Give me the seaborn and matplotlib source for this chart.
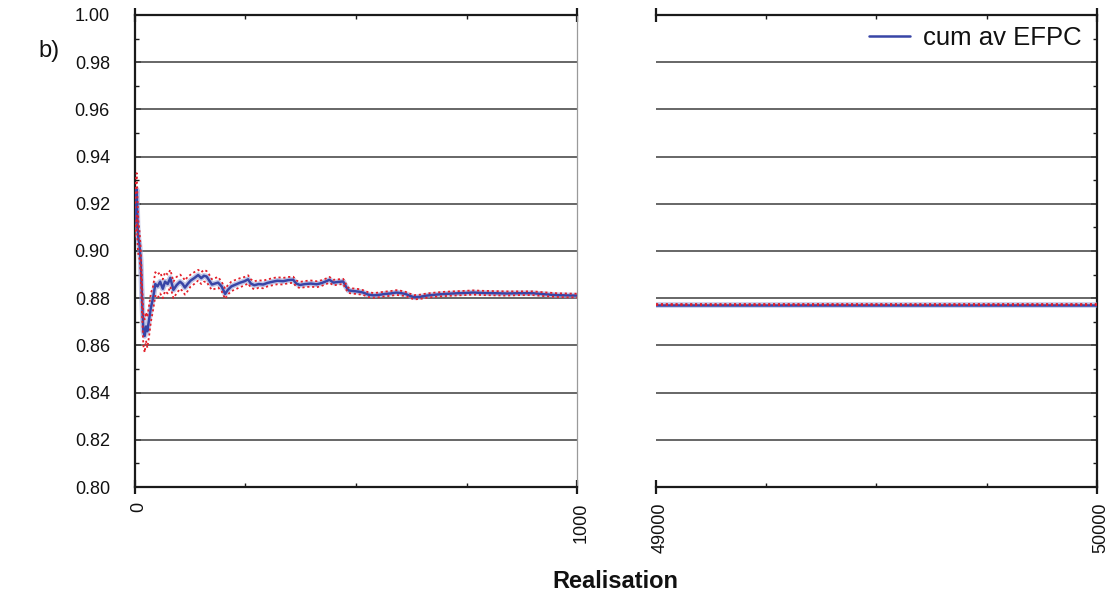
import matplotlib
matplotlib.use("Agg")
import matplotlib.pyplot as plt
import matplotlib.transforms as mtransforms
from matplotlib.ticker import FixedLocator, MultipleLocator
import seaborn as sns

sns.set_style("white")
plt.rcParams["font.family"] = ["Liberation Sans", "DejaVu Sans"]
plt.rcParams["text.color"] = "#111111"
plt.rcParams["xtick.color"] = "#111111"
plt.rcParams["ytick.color"] = "#111111"
plt.rcParams["xtick.labelcolor"] = "#111111"
plt.rcParams["ytick.labelcolor"] = "#111111"

# Cumulative average EFPC over the first 1000 realisations, with bounds
realisation = [0, 2, 4, 6, 8, 10, 13, 16, 19, 22, 25, 28, 32, 36, 41, 46, 51, 57, 63, 68,
               74, 80, 87, 94, 102, 108, 113, 119, 126, 134, 143, 150, 156, 162, 168, 174,
               181, 188, 196, 204, 210, 218, 228, 238, 248, 256, 262, 270, 280, 290, 300,
               312, 322, 335, 348, 358, 365, 373, 385, 398, 411, 422, 433, 440, 449, 460,
               471, 477, 483, 495, 505, 516, 528, 540, 552, 565, 578, 591, 600, 612, 622,
               632, 645, 660, 680, 700, 720, 745, 765, 790, 815, 840, 870, 900, 925, 954,
               975, 1000]
cum_av = [0.912, 0.920, 0.926, 0.910, 0.905, 0.903, 0.896, 0.880, 0.866, 0.864, 0.868,
          0.866, 0.871, 0.876, 0.880, 0.886, 0.885, 0.887, 0.884, 0.887, 0.886, 0.8886,
          0.8835, 0.8855, 0.887, 0.886, 0.8845, 0.886, 0.8875, 0.8885, 0.8898, 0.8885,
          0.8895, 0.8892, 0.8875, 0.8858, 0.8862, 0.8866, 0.8850, 0.8818, 0.8835, 0.8850,
          0.8858, 0.8866, 0.8872, 0.8880, 0.8862, 0.8855, 0.8860, 0.8858, 0.8865, 0.8870,
          0.8874, 0.8872, 0.8877, 0.8878, 0.8862, 0.8856, 0.8860, 0.8862, 0.8859, 0.8864,
          0.8872, 0.8878, 0.8866, 0.8869, 0.8871, 0.8850, 0.8833, 0.8830, 0.8828, 0.8824,
          0.8815, 0.8812, 0.8814, 0.8818, 0.8820, 0.8824, 0.8822, 0.8818, 0.8810, 0.8804,
          0.8806, 0.8811, 0.8815, 0.8818, 0.8820, 0.8822, 0.8824, 0.8822, 0.8821, 0.8820,
          0.8821, 0.8821, 0.8817, 0.8813, 0.8812, 0.8811]
upper = [0.918, 0.930, 0.933, 0.920, 0.912, 0.909, 0.901, 0.886, 0.873, 0.871, 0.874,
         0.872, 0.877, 0.882, 0.885, 0.891, 0.890, 0.891, 0.888, 0.891, 0.890, 0.892,
         0.887, 0.889, 0.890, 0.889, 0.8875, 0.889, 0.890, 0.891, 0.892, 0.891,
         0.892, 0.8915, 0.890, 0.888, 0.8885, 0.889, 0.887, 0.884, 0.8855, 0.887,
         0.8878, 0.8885, 0.889, 0.8897, 0.888, 0.8872, 0.8876, 0.8874, 0.888, 0.8885,
         0.8889, 0.8886, 0.889, 0.8891, 0.8875, 0.8869, 0.8873, 0.8875, 0.8872, 0.8876,
         0.8884, 0.889, 0.8878, 0.888, 0.8882, 0.8861, 0.8844, 0.8841, 0.8839, 0.8834,
         0.8825, 0.8822, 0.8824, 0.8828, 0.883, 0.8834, 0.8832, 0.8827, 0.8819, 0.8813,
         0.8815, 0.882, 0.8824, 0.8827, 0.8829, 0.8831, 0.8833, 0.8831, 0.883, 0.8829,
         0.8829, 0.8829, 0.8825, 0.8821, 0.882, 0.8819]
lower = [0.906, 0.910, 0.915, 0.902, 0.898, 0.897, 0.891, 0.874, 0.860, 0.857, 0.862,
         0.859, 0.864, 0.870, 0.875, 0.881, 0.880, 0.882, 0.880, 0.883, 0.882, 0.885,
         0.880, 0.882, 0.884, 0.883, 0.8815, 0.883, 0.885, 0.886, 0.8875, 0.886,
         0.887, 0.887, 0.885, 0.8835, 0.884, 0.8845, 0.883, 0.8797, 0.8815, 0.883,
         0.8838, 0.8847, 0.8854, 0.8863, 0.8845, 0.8838, 0.8844, 0.8842, 0.885, 0.8855,
         0.8859, 0.8858, 0.8864, 0.8865, 0.8849, 0.8843, 0.8847, 0.8849, 0.8846, 0.8852,
         0.886, 0.8866, 0.8854, 0.8858, 0.886, 0.8839, 0.8822, 0.8819, 0.8817, 0.8814,
         0.8805, 0.8802, 0.8804, 0.8808, 0.881, 0.8814, 0.8812, 0.8809, 0.8801, 0.8795,
         0.8797, 0.8802, 0.8806, 0.8809, 0.8811, 0.8813, 0.8815, 0.8813, 0.8812, 0.8811,
         0.8813, 0.8813, 0.8809, 0.8805, 0.8804, 0.8803]

# Final realisations 49000-50000
realisation_late = [49000, 50000]
cum_av_late = [0.8773, 0.8773]
upper_late = [0.8775, 0.8775]
lower_late = [0.8771, 0.8771]

y_ticks = [0.80, 0.82, 0.84, 0.86, 0.88, 0.90, 0.92, 0.94, 0.96, 0.98, 1.00]

BLUE = "#3845a6"
RED = "#e3202a"
GRID = "#4d4d4d"

fig = plt.figure(figsize=(11.09, 6.04), dpi=100)
ax1 = fig.add_axes([0.1217, 0.1937, 0.3986, 0.7815])
ax2 = fig.add_axes([0.5915, 0.1937, 0.3977, 0.7815])


def draw(ax, x, m, up, lo):
    # soft halo beneath the average line
    sns.lineplot(x=x, y=m, ax=ax, color="#9aa3d8", lw=4.0, alpha=0.6,
                 estimator=None, sort=False, legend=False, zorder=3)
    sns.lineplot(x=x, y=m, ax=ax, color=BLUE, lw=1.8, estimator=None,
                 sort=False, label="cum av EFPC", zorder=4)
    for b in (up, lo):
        sns.lineplot(x=x, y=b, ax=ax, color=RED, lw=1.3, ls=(0, (1.2, 1.5)),
                     estimator=None, sort=False, legend=False, zorder=5)


draw(ax1, realisation, cum_av, upper, lower)
draw(ax2, realisation_late, cum_av_late, upper_late, lower_late)

for ax, (x0, x1) in ((ax1, (0, 1000)), (ax2, (49000, 50000))):
    ax.set_xlim(x0, x1)
    ax.set_ylim(0.80, 1.00)
    ax.set_xlabel("")
    ax.set_ylabel("")
    for yv in y_ticks[1:-1]:
        ax.axhline(yv, color=GRID, lw=1.2, zorder=1)
    ax.xaxis.set_major_locator(FixedLocator([x0, x1]))
    ax.xaxis.set_minor_locator(FixedLocator([x0 + 250, x0 + 500, x0 + 750]))
    ax.set_xticklabels([str(x0), str(x1)], rotation=90, fontsize=13)
    ax.tick_params(axis="x", which="major", direction="inout", length=10,
                   width=1.6, color="#1a1a1a", top=True, bottom=True, pad=6)
    ax.tick_params(axis="x", which="minor", direction="in", length=3,
                   width=1.0, color="#1a1a1a", top=True, bottom=True)
    ax.yaxis.set_major_locator(FixedLocator(y_ticks))
    ax.yaxis.set_minor_locator(MultipleLocator(0.01))
    for s in ("top", "bottom"):
        ax.spines[s].set_color("#1a1a1a")
        ax.spines[s].set_linewidth(1.6)

# Left panel: y labels on the left, thin grey right edge
ax1.set_yticklabels([f"{v:.2f}" for v in y_ticks], fontsize=13)
ax1.tick_params(axis="y", which="both", direction="in", left=True, right=False,
                color="#1a1a1a")
ax1.tick_params(axis="y", which="major", length=4, width=1.2, pad=18)
ax1.tick_params(axis="y", which="minor", length=3, width=1.0)
ax1.spines["left"].set_color("#1a1a1a")
ax1.spines["left"].set_linewidth(1.6)
ax1.spines["right"].set_color("#9a9a9a")
ax1.spines["right"].set_linewidth(0.9)
ax1.get_legend().remove()

# Right panel: ticks on the right edge only
ax2.spines["left"].set_visible(False)
ax2.spines["right"].set_color("#1a1a1a")
ax2.spines["right"].set_linewidth(1.6)
ax2.tick_params(axis="y", which="both", direction="in", left=False, right=True,
                labelleft=False, labelright=False, color="#1a1a1a")
ax2.tick_params(axis="y", which="major", length=4, width=1.2)
ax2.tick_params(axis="y", which="minor", length=3, width=1.0)
handles, labels = ax2.get_legend_handles_labels()
ax2.legend(handles[:1], labels[:1], loc="upper right", frameon=False,
           fontsize=18.5, handlelength=1.6, handletextpad=0.5,
           bbox_to_anchor=(1.0, 1.01), borderaxespad=0.2,
           labelcolor="#111111")

# nudge the rotated x tick labels slightly to the right of their ticks
label_shift = mtransforms.ScaledTranslation(4 / 100, 0, fig.dpi_scale_trans)
for ax in (ax1, ax2):
    for tick in ax.xaxis.get_major_ticks():
        tick.label1.set_transform(tick.label1.get_transform() + label_shift)

fig.text(0.555, 0.018, "Realisation", ha="center", va="bottom",
         fontsize=17, fontweight="bold")
fig.text(0.035, 0.915, "b)", ha="left", va="center", fontsize=17)

fig.savefig("out.png", dpi=100)
